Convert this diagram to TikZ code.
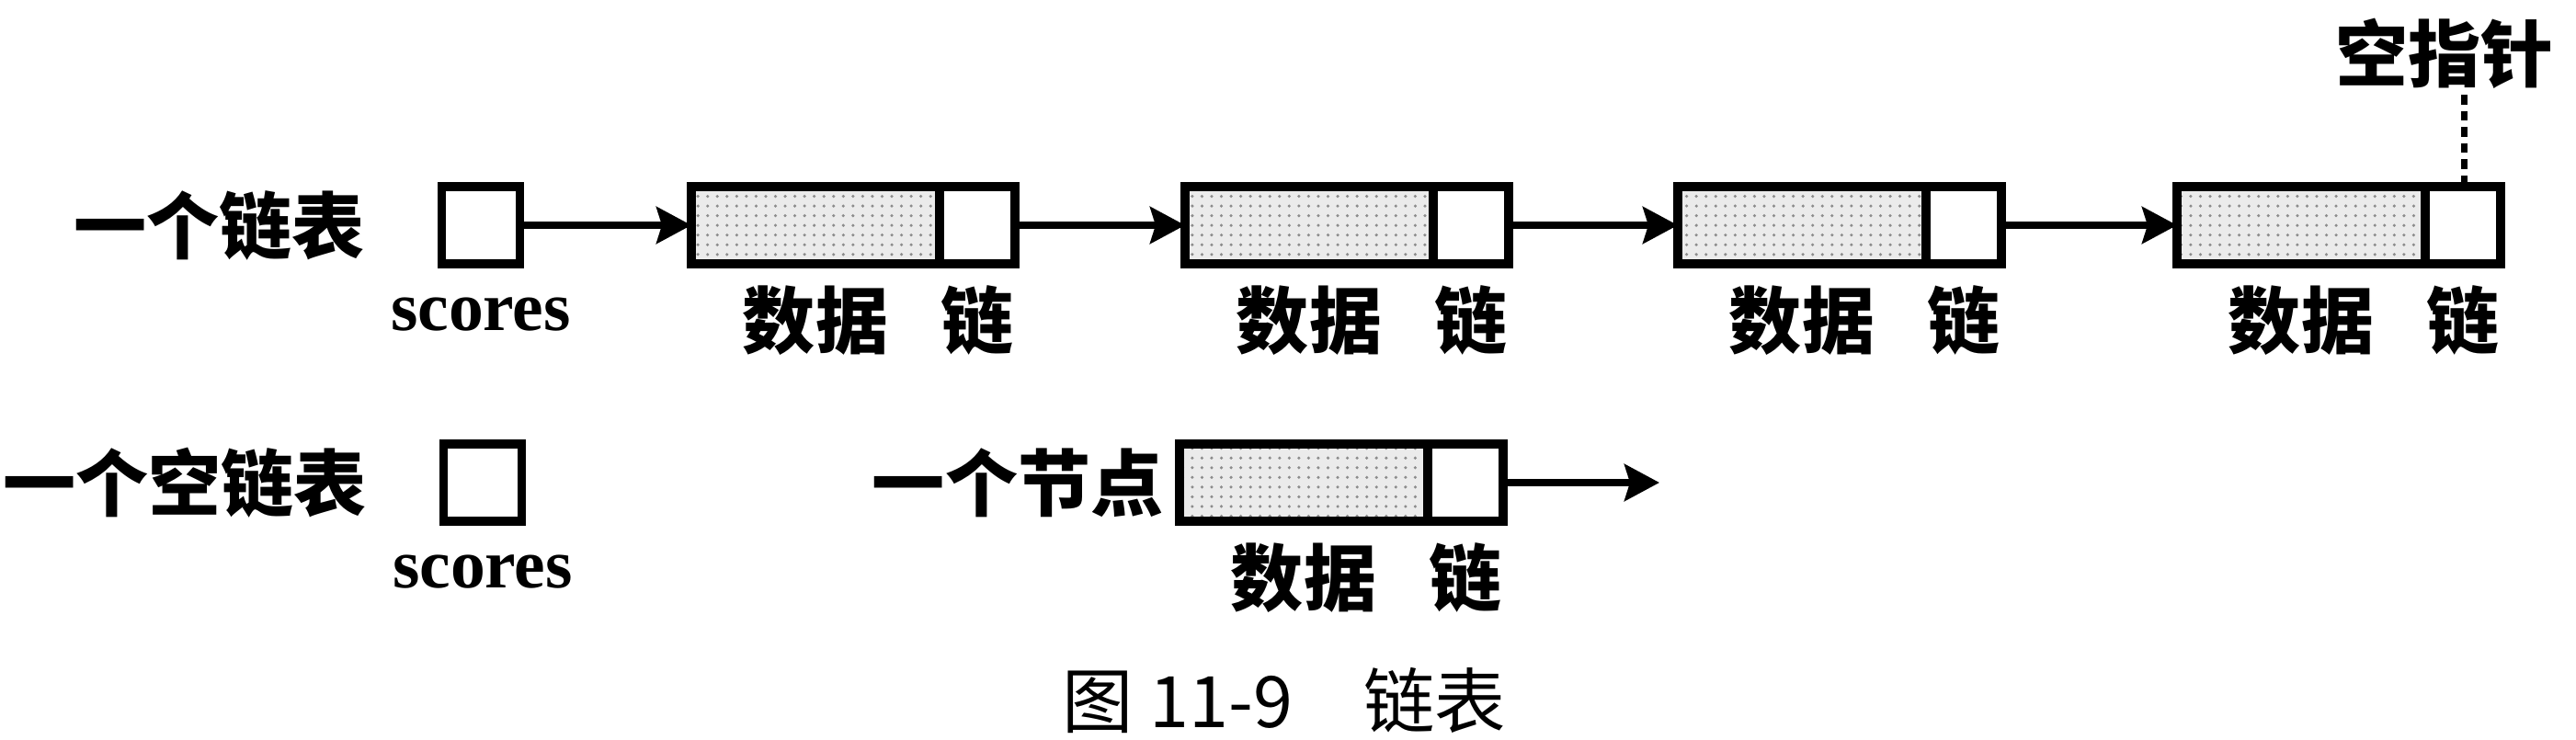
\documentclass[tikz,border=0pt]{standalone}
\usepackage{fontspec}
\usetikzlibrary{arrows.meta,positioning,patterns}
\newfontfamily\cjk{Noto Sans CJK SC}
\newfontfamily\latinserif{Liberation Serif}
\tikzset{
    datacell/.style={rectangle, draw=black, line width=2.6pt, outer sep=0pt, inner sep=0pt, minimum width=2.70cm, minimum height=0.84cm, preaction={fill=black!8}, pattern=dots, pattern color=black!45},
    linkcell/.style={rectangle, draw=black, fill=white, line width=2.6pt, outer sep=0pt, inner sep=0pt, minimum width=0.82cm, minimum height=0.84cm},
    ptrcell/.style={linkcell, minimum width=0.85cm},
    link/.style={line width=2pt, -{Stealth[length=0.38cm,width=0.4cm,inset=0.06cm]}},
    nulline/.style={line width=2pt, dash pattern=on 3pt off 2pt},
    rowlabel/.style={inner sep=0pt, font=\cjk\bfseries\fontsize{22.5pt}{26pt}\selectfont},
    partlabel/.style={rowlabel},
    varlabel/.style={inner sep=0pt, font=\latinserif\bfseries\fontsize{21.5pt}{24pt}\selectfont},
    caption/.style={inner sep=0pt, font=\cjk\fontsize{22pt}{26pt}\selectfont},
}
\begin{document}
\begin{tikzpicture}
    \useasboundingbox (0,0) rectangle (28.02,8.04);

    % Row 1: a list with four nodes
    \node[ptrcell] (p1) at (5.23,5.59) {};
    \node[rowlabel, left=0.83cm of p1] (t1) {一个链表};
    \node[varlabel, below=0.36cm of p1] (s1) {scores};

    \node[datacell] (d1) at (8.87,5.59) {};
    \node[linkcell, right=0pt of d1] (l1) {};
    \node[datacell] (d2) at (14.24,5.59) {};
    \node[linkcell, right=0pt of d2] (l2) {};
    \node[datacell] (d3) at (19.60,5.59) {};
    \node[linkcell, right=0pt of d3] (l3) {};
    \node[datacell] (d4) at (25.03,5.59) {};
    \node[linkcell, right=0pt of d4] (l4) {};

    \node[partlabel, below=0.23cm of d1] (dl1) {数据};
    \node[partlabel, below=0.23cm of l1] (ll1) {链};
    \node[partlabel, below=0.23cm of d2] (dl2) {数据};
    \node[partlabel, below=0.23cm of l2] (ll2) {链};
    \node[partlabel, below=0.23cm of d3] (dl3) {数据};
    \node[partlabel, below=0.23cm of l3] (ll3) {链};
    \node[partlabel, below=0.23cm of d4] (dl4) {数据};
    \node[partlabel, below=0.23cm of l4] (ll4) {链};

    \draw[link] (p1) -- (d1);
    \draw[link] (l1) -- (d2);
    \draw[link] (l2) -- (d3);
    \draw[link] (l3) -- (d4);

    % null pointer
    \node[rowlabel] (nul) at (26.59,7.46) {空指针};
    \coordinate (nultop) at ([xshift=0.21cm, yshift=-0.06cm]nul.south);
    \draw[nulline] (nultop) -- (nultop |- l4.north);

    % Row 2: empty list and a single node
    \node[ptrcell] (p2) at (5.25,2.79) {};
    \node[rowlabel, left=0.83cm of p2] (t2) {一个空链表};
    \node[varlabel, below=0.36cm of p2] (s2) {scores};

    \node[datacell] (d5) at (14.18,2.79) {};
    \node[linkcell, right=0pt of d5] (l5) {};
    \node[rowlabel, left=0.17cm of d5] (t3) {一个节点};
    \node[partlabel, below=0.23cm of d5] (dl5) {数据};
    \node[partlabel, below=0.23cm of l5] (ll5) {链};
    \coordinate (next) at (18.05,2.79);
    \draw[link] (l5) -- (next);

    % Caption
    \node[caption, anchor=south] (cap) at (13.97,0.06) {图 11-9\quad 链表};
\end{tikzpicture}
\end{document}
